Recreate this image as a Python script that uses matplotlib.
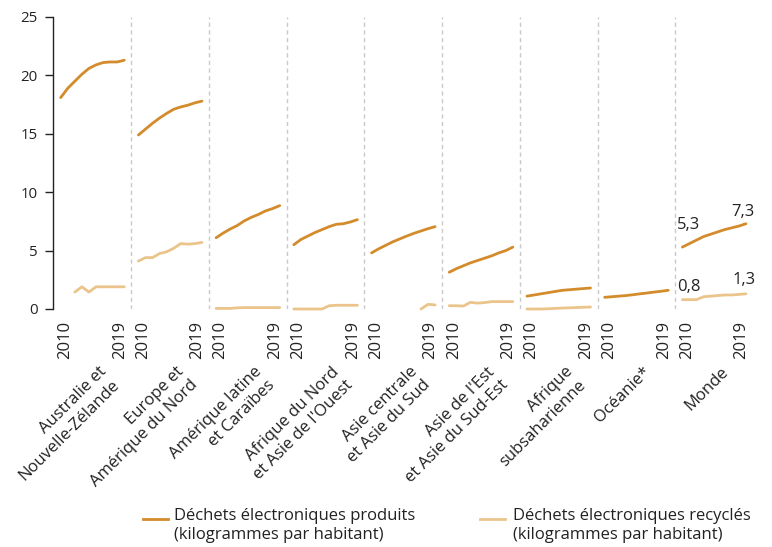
import matplotlib
matplotlib.use("Agg")
import matplotlib.pyplot as plt
from matplotlib.lines import Line2D
from matplotlib.transforms import offset_copy
import numpy as np

plt.rcParams["font.family"] = ["Open Sans", "DejaVu Sans"]

# ---- data (kg per inhabitant, 2010-2019) ----
years = list(range(2010, 2020))
year_labels = ["2010", "2019"]

regions = [
    "Australie et\nNouvelle-Zélande",
    "Europe et\nAmérique du Nord",
    "Amérique latine\net Caraïbes",
    "Afrique du Nord\net Asie de l'Ouest",
    "Asie centrale\net Asie du Sud",
    "Asie de l'Est\net Asie du Sud-Est",
    "Afrique\nsubsaharienne",
    "Océanie*",
    "Monde",
]

nan = float("nan")
aus_nz_produced = [18.1, 18.9, 19.5, 20.1, 20.6, 20.9, 21.1, 21.15, 21.15, 21.3]
aus_nz_recycled = [nan, nan, 1.45, 1.9, 1.45, 1.9, 1.9, 1.9, 1.9, 1.9]
eur_nam_produced = [14.9, 15.4, 15.9, 16.35, 16.75, 17.1, 17.3, 17.45, 17.65, 17.8]
eur_nam_recycled = [4.1, 4.4, 4.4, 4.75, 4.9, 5.2, 5.6, 5.55, 5.6, 5.7]
latam_produced = [6.1, 6.5, 6.85, 7.15, 7.55, 7.85, 8.1, 8.4, 8.6, 8.85]
latam_recycled = [0.05, 0.05, 0.05, 0.1, 0.12, 0.12, 0.12, 0.12, 0.12, 0.12]
nafr_wasia_produced = [5.5, 5.95, 6.25, 6.55, 6.8, 7.05, 7.25, 7.3, 7.45, 7.65]
nafr_wasia_recycled = [0.0, 0.0, 0.0, 0.0, 0.0, 0.28, 0.32, 0.32, 0.32, 0.32]
casia_sasia_produced = [4.8, 5.15, 5.45, 5.75, 6.0, 6.25, 6.48, 6.68, 6.88, 7.05]
casia_sasia_recycled = [nan, nan, nan, nan, nan, nan, nan, 0.0, 0.4, 0.35]
easia_seasia_produced = [3.15, 3.45, 3.7, 3.95, 4.15, 4.35, 4.55, 4.8, 5.0, 5.3]
easia_seasia_recycled = [0.28, 0.28, 0.25, 0.57, 0.5, 0.55, 0.63, 0.63, 0.63, 0.63]
ssafr_produced = [1.1, 1.2, 1.3, 1.4, 1.5, 1.6, 1.65, 1.7, 1.75, 1.8]
ssafr_recycled = [0.0, 0.0, 0.0, 0.02, 0.05, 0.08, 0.1, 0.12, 0.15, 0.17]
oceania_produced = [1.0, 1.05, 1.1, 1.15, 1.22, 1.3, 1.37, 1.45, 1.52, 1.6]
oceania_recycled = [nan] * 10
world_produced = [5.3, 5.6, 5.9, 6.2, 6.4, 6.6, 6.8, 6.95, 7.1, 7.3]
world_recycled = [0.8, 0.8, 0.8, 1.05, 1.1, 1.15, 1.2, 1.2, 1.25, 1.3]

produced = [aus_nz_produced, eur_nam_produced, latam_produced,
            nafr_wasia_produced, casia_sasia_produced, easia_seasia_produced,
            ssafr_produced, oceania_produced, world_produced]
recycled = [aus_nz_recycled, eur_nam_recycled, latam_recycled,
            nafr_wasia_recycled, casia_sasia_recycled, easia_seasia_recycled,
            ssafr_recycled, oceania_recycled, world_recycled]

y_ticks = [0, 5, 10, 15, 20, 25]

# ---- style ----
PROD = "#D38B2B"
REC = "#EBC48B"
DIVIDER = "#C9C9C9"
INK = "#222222"
PANEL = 11  # x units per region block (10 years + gap)
FS = 12

W, H = 772, 547
fig = plt.figure(figsize=(W / 100, H / 100), dpi=100)
ax = fig.add_axes([53 / W, 238 / H, 700 / W, 292 / H])
ax.set_xlim(-1.09, 98)
ax.set_ylim(0, 25)

for i, (p, r) in enumerate(zip(produced, recycled)):
    xs = i * PANEL + (np.array(years) - years[0])
    ax.plot(xs, r, color=REC, lw=2.0, solid_capstyle="round",
            solid_joinstyle="round", clip_on=False, zorder=3)
    ax.plot(xs, p, color=PROD, lw=2.0, solid_capstyle="round",
            solid_joinstyle="round", clip_on=False, zorder=4)

for i in range(len(regions) - 1):
    ax.axvline(i * PANEL + 10, color=DIVIDER, lw=1.0, ls=(0, (3, 2.5)), zorder=1)

# axes styling
for side in ["top", "right", "bottom"]:
    ax.spines[side].set_visible(False)
ax.spines["left"].set_color(INK)
ax.spines["left"].set_linewidth(1.0)
ax.set_yticks(y_ticks)
ax.set_yticklabels([str(t) for t in y_ticks])
ax.tick_params(axis="y", length=5.8, width=1.0, color=INK, pad=5,
               labelsize=10.8, labelcolor=INK)
ax.set_xticks([])

xaxis_tr = ax.get_xaxis_transform()

# year labels under each block
for i in range(len(regions)):
    for lab, dx in zip(year_labels, (4.5, -4.5)):
        xpos = i * PANEL + (int(lab) - years[0])
        tr = offset_copy(xaxis_tr, fig=fig, x=dx, y=-12, units="dots")
        ax.text(xpos, 0, lab, transform=tr, rotation=90, ha="center",
                va="top", fontsize=FS, color=INK)

# region names, rotated
for i, name in enumerate(regions):
    xc = i * PANEL + 4.5
    tr = offset_copy(xaxis_tr, fig=fig, x=6, y=-55, units="dots")
    ax.text(xc, 0, name, transform=tr, rotation=45, rotation_mode="anchor",
            ha="right", va="top", multialignment="right", fontsize=FS,
            color=INK, linespacing=1.22)

# value labels on the world block
w0 = (len(regions) - 1) * PANEL
labels_world = [
    (0, world_produced[0], (6, 22)),
    (9, world_produced[-1], (-3, 12)),
    (0, world_recycled[0], (7, 13)),
    (9, world_recycled[-1], (-2, 14)),
]
for k, v, off in labels_world:
    ax.annotate(f"{v:.1f}".replace(".", ","), xy=(w0 + k, v), xytext=off,
                textcoords="offset pixels", ha="center", va="center",
                fontsize=FS, color=INK)

# legend
def legend_item(x_line0, x_text, color, label):
    y = 1 - 519 / H
    fig.add_artist(Line2D([x_line0 / W, (x_line0 + 25) / W], [y, y],
                          transform=fig.transFigure, color=color, lw=2.0))
    fig.text(x_text / W, 1 - 508 / H, label, ha="left", va="top",
             fontsize=FS, color=INK, linespacing=1.25)

legend_item(143, 174, PROD, "Déchets électroniques produits\n(kilogrammes par habitant)")
legend_item(480, 513, REC, "Déchets électroniques recyclés\n(kilogrammes par habitant)")

fig.savefig("out.png", dpi=100)
